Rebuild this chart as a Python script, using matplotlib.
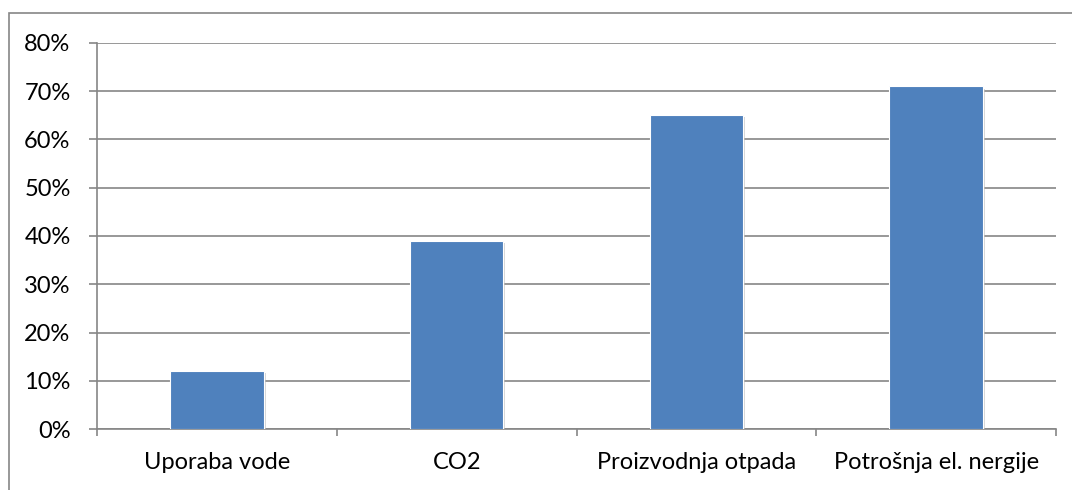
import numpy as np
import matplotlib.pyplot as plt
import matplotlib.patheffects as pe
from matplotlib.patches import Rectangle
from matplotlib.ticker import FixedLocator, PercentFormatter

categories = ['Uporaba vode', 'CO2', 'Proizvodnja otpada', 'Potrošnja el. nergije']
values = [12, 39, 65, 71]
y_ticks = [0, 10, 20, 30, 40, 50, 60, 70, 80]

plt.rcParams['font.family'] = ['Lato', 'DejaVu Sans']

W, H = 1072, 490
fig = plt.figure(figsize=(W / 100, H / 100), dpi=100)
ax = fig.add_axes([97 / W, (H - 429) / H, (1056 - 97) / W, (429 - 43) / H])

# outer chart border (runs off the right and bottom edges)
fig.patches.append(Rectangle((9 / W, -0.1), 1.2, (H - 13) / H + 0.1,
                             transform=fig.transFigure, fill=False,
                             edgecolor='#868686', linewidth=1.2))

x = np.arange(len(categories))
bars = ax.bar(x, values, width=0.39, color='#4F81BD', edgecolor='white',
              linewidth=0.8, zorder=3)
for b in bars:
    b.set_path_effects([pe.SimplePatchShadow(offset=(1.5, -1.5), shadow_rgbFace='#bbbbbb', alpha=0.6),
                        pe.Normal()])

ax.set_xlim(-0.5, len(categories) - 0.5)
ax.set_ylim(0, 80)
ax.set_yticks(y_ticks)
ax.yaxis.set_major_formatter(PercentFormatter(decimals=0))
ax.grid(axis='y', color='#868686', linewidth=1.2, zorder=0)

ax.set_xticks(x)
ax.set_xticklabels(categories)
ax.xaxis.set_minor_locator(FixedLocator(np.arange(len(categories) + 1) - 0.5))
ax.tick_params(axis='x', which='major', length=0, pad=16.5, labelsize=17)
ax.tick_params(axis='x', which='minor', length=5, width=1.2, color='#868686')
ax.tick_params(axis='y', length=6, width=1.2, color='#868686', pad=13, labelsize=17)

for s in ['top', 'right']:
    ax.spines[s].set_visible(False)
for s in ['left', 'bottom']:
    ax.spines[s].set_color('#868686')
    ax.spines[s].set_linewidth(1.2)

plt.savefig('out.png', dpi=100)
